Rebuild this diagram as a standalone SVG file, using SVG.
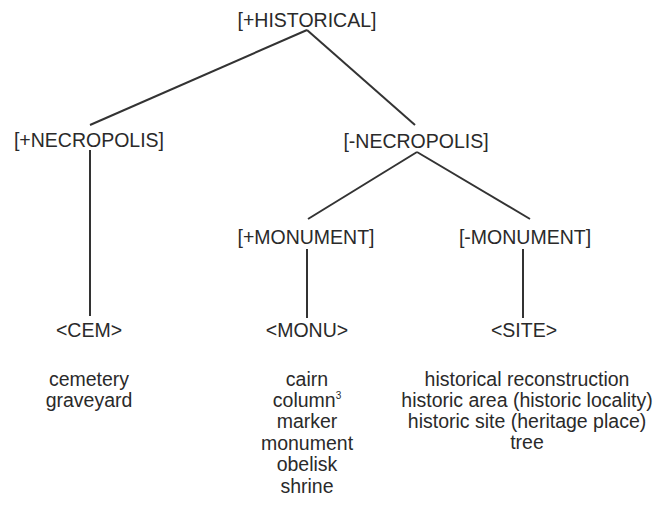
<svg xmlns="http://www.w3.org/2000/svg" width="657" height="512" viewBox="0 0 657 512">
<style>
text{font-family:"Liberation Sans",Arial,sans-serif;font-size:19.5px;fill:#2a2a2a;text-anchor:middle}
.c line{stroke:#333;stroke-width:2}
</style>
<rect width="657" height="512" fill="#fff"/>
<g class="c" id="connectors">
<line x1="307" y1="30" x2="90" y2="125"/>
<line x1="307" y1="30" x2="415" y2="125"/>
<line x1="90" y1="150" x2="90" y2="316"/>
<line x1="417" y1="152" x2="308" y2="219"/>
<line x1="417" y1="152" x2="530" y2="219"/>
<line x1="307" y1="249" x2="307" y2="318"/>
<line x1="523" y1="249" x2="523" y2="318"/>
</g>
<g id="historical"><text x="307" y="27">[+HISTORICAL]</text></g>
<g id="pnecro"><text x="89" y="147">[+NECROPOLIS]</text></g>
<g id="nnecro"><text x="416" y="148">[-NECROPOLIS]</text></g>
<g id="pmon"><text x="306" y="244">[+MONUMENT]</text></g>
<g id="nmon"><text x="525" y="244">[-MONUMENT]</text></g>
<g id="cem"><text x="89" y="337">&lt;CEM&gt;</text></g>
<g id="monu"><text x="307" y="337">&lt;MONU&gt;</text></g>
<g id="site"><text x="524" y="337">&lt;SITE&gt;</text></g>
<g id="cemlist">
<text x="89" y="386">cemetery</text>
<text x="89" y="407">graveyard</text>
</g>
<g id="monulist">
<text x="307" y="386">cairn</text>
<text x="307" y="407">column<tspan font-size="10" dy="-8">3</tspan></text>
<text x="307" y="428">marker</text>
<text x="307" y="450">monument</text>
<text x="307" y="471">obelisk</text>
<text x="307" y="493">shrine</text>
</g>
<g id="sitelist">
<text x="527" y="386">historical reconstruction</text>
<text x="527" y="407">historic area (historic locality)</text>
<text x="527" y="428">historic site (heritage place)</text>
<text x="527" y="449">tree</text>
</g>
</svg>
